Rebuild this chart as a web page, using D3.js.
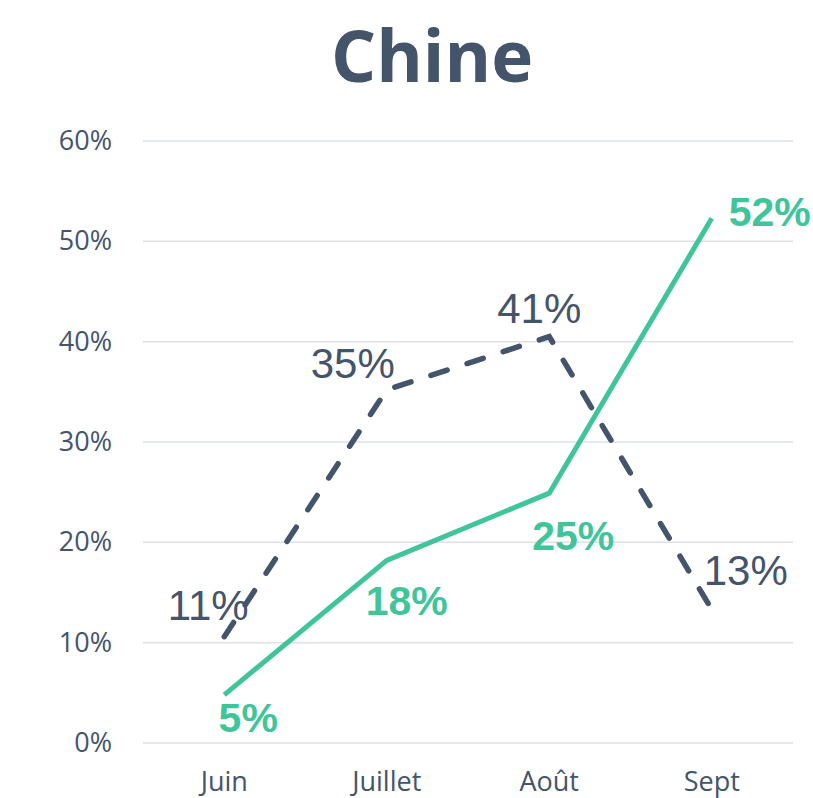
<!DOCTYPE html>
<html>
<head>
<meta charset="utf-8">
<script src="https://cdn.jsdelivr.net/npm/d3@7"></script>
<style>
  html, body { margin: 0; padding: 0; background: #fff; overflow: hidden; }
  svg { display: block; }
</style>
</head>
<body>
<svg id="chart"></svg>
<script>
const months = ['Juin', 'Juillet', 'Août', 'Sept'];
const dashedValues = [0.106, 0.352, 0.405, 0.133];
const greenValues = [0.048, 0.182, 0.249, 0.523];
const yTicks = [0, 0.1, 0.2, 0.3, 0.4, 0.5, 0.6];

const width = 813, height = 798;
const margin = {top: 141, right: 20, bottom: 55, left: 143};
const dark = '#44546a';
const green = '#40c59a';

const svg = d3.select('#chart')
    .attr('width', width)
    .attr('height', height);

const chart = svg.append('g')
    .attr('transform', `translate(${margin.left}, ${margin.top})`);

const innerWidth = width - margin.left - margin.right;
const innerHeight = height - margin.top - margin.bottom;

const xscale = d3.scaleBand()
    .domain(months)
    .range([0, innerWidth]);

const yscale = d3.scaleLinear()
    .domain([0, 0.6])
    .range([innerHeight, 0]);

// gridlines
chart.selectAll('line.grid').data(yTicks).enter()
    .append('line')
    .attr('class', 'grid')
    .attr('x1', 0)
    .attr('x2', innerWidth)
    .attr('y1', d => yscale(d))
    .attr('y2', d => yscale(d))
    .attr('stroke', '#dde1e7')
    .attr('stroke-width', 1.5);

// y axis
const yaxis = d3.axisLeft(yscale)
    .tickValues(yTicks)
    .tickFormat(d3.format('.0%'))
    .tickSize(0)
    .tickPadding(31);

const yg = chart.append('g').call(yaxis);
yg.select('.domain').remove();
yg.selectAll('text')
    .attr('fill', dark)
    .style('font-family', '"Open Sans", sans-serif')
    .style('font-size', '27px');

// x axis
const xaxis = d3.axisBottom(xscale)
    .tickSize(0)
    .tickPadding(29);

const xg = chart.append('g')
    .attr('transform', `translate(0, ${innerHeight})`)
    .call(xaxis);
xg.select('.domain').remove();
xg.selectAll('text')
    .attr('fill', dark)
    .style('font-family', '"Open Sans", sans-serif')
    .style('font-size', '27px');

const cx = d => xscale(d) + xscale.bandwidth() / 2;

const line = d3.line()
    .x((d, i) => cx(months[i]))
    .y(d => yscale(d));

chart.append('path')
    .datum(dashedValues)
    .attr('d', line)
    .attr('fill', 'none')
    .attr('stroke', dark)
    .attr('stroke-width', 5.5)
    .attr('stroke-linecap', 'round')
    .attr('stroke-dasharray', '17 21');

chart.append('path')
    .datum(greenValues)
    .attr('d', line)
    .attr('fill', 'none')
    .attr('stroke', green)
    .attr('stroke-width', 5);

const fmt = d3.format('.0%');

// label offsets (dx, dy) relative to each point
const dashedOffsets = [[-16, -17], [-34, -12], [-10, -14], [34, -25]];
const greenOffsets = [[24, 37], [20, 55], [24, 57], [58, 8]];

chart.selectAll('text.dlab').data(dashedValues).enter()
    .append('text')
    .attr('class', 'dlab')
    .attr('x', (d, i) => cx(months[i]) + dashedOffsets[i][0])
    .attr('y', (d, i) => yscale(d) + dashedOffsets[i][1])
    .attr('text-anchor', 'middle')
    .attr('fill', dark)
    .style('font-family', '"Liberation Sans", Arial, sans-serif')
    .style('font-size', '42px')
    .text(d => fmt(d));

chart.selectAll('text.glab').data(greenValues).enter()
    .append('text')
    .attr('class', 'glab')
    .attr('x', (d, i) => cx(months[i]) + greenOffsets[i][0])
    .attr('y', (d, i) => yscale(d) + greenOffsets[i][1])
    .attr('text-anchor', 'middle')
    .attr('fill', green)
    .style('font-family', '"Liberation Sans", Arial, sans-serif')
    .style('font-weight', 'bold')
    .style('font-size', '41px')
    .text(d => fmt(d));

// title
svg.append('text')
    .attr('x', 432)
    .attr('y', 82)
    .attr('text-anchor', 'middle')
    .attr('fill', dark)
    .style('font-family', '"Open Sans", sans-serif')
    .style('font-weight', 'bold')
    .style('font-size', '71px')
    .text('Chine');
</script>
</body>
</html>
